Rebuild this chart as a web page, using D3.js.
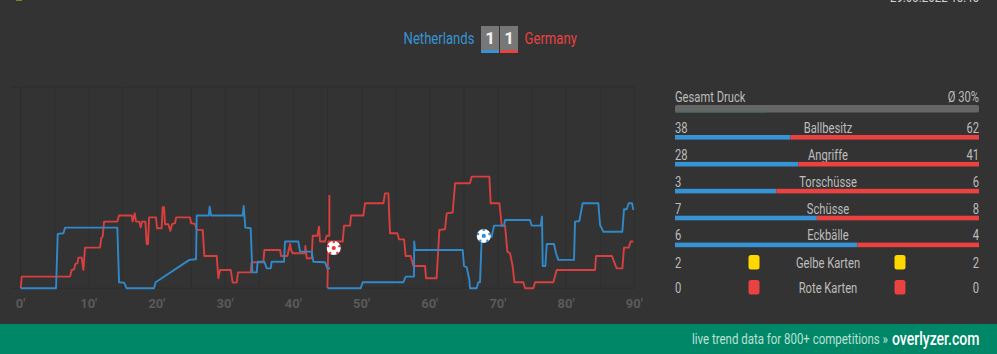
<!DOCTYPE html>
<html><head><meta charset="utf-8">
<script src="https://cdn.jsdelivr.net/npm/d3@7/dist/d3.min.js"></script>
<style>html,body{margin:0;padding:0;background:#333;overflow:hidden}svg{display:block}text{font-family:Roboto,sans-serif}</style>
</head><body><svg id="c" width="997" height="354"></svg>
<script>
const homeTeam="Netherlands", awayTeam="Germany", score=[1,1];
const tickMinutes=[0,10,20,30,40,50,60,70,80,90];
const gridMinutes=[0,5,10,15,20,25,30,35,40,45,50,55,60,65,70,75,80,85,90];

const blueH1Min=[0,5.18,5.43,6.26,6.5,14.17,14.42,15.15,15.54,19.55,19.79,24.73,25.71,25.81,27.57,27.71,27.91,32.55,32.7,32.94,33.72,33.97,34.6,34.75,35.73,36.07,36.66,36.8,38.61,38.76,40.71,40.96,42.67,42.91,44.62,44.97,45.36];
const blueH1Val=[0,0,27,27.3,30.1,30.1,3,2.8,0,0,3,14.1,14.4,36.1,36.1,40.5,36.1,36.1,40.9,30.1,29.8,7.9,7.9,13.2,13.2,9.9,9.9,13.2,13.2,23.2,23.2,18.2,18.2,13.2,12.9,9.9,9.9];
const blueH2Min=[45,49.85,50.15,56.11,56.45,57.67,57.7,57.82,64.81,65,65.4,65.79,65.88,66.86,67.1,67.35,67.59,69.06,69.4,70.87,71.02,74.68,74.93,76.25,76.44,76.54,76.93,77.13,78.2,78.49,78.84,81.13,81.28,81.91,82.4,84.7,84.95,85.43,88.22,88.46,88.86,89.15,89.64,89.83];
const blueH2Val=[0,0,3,3,5.8,5.8,23.2,19,19,11.1,10.4,4,0,0,3,3,24.8,25.6,31.1,31.1,33.9,33.9,31.1,31.1,35.6,11.1,11.1,22,22,17.4,14.1,14.1,33.1,33.4,42.2,42.2,31.4,28.1,28.1,39.2,39.2,42.2,42.2,38.9];
const redH1Min=[0,0.15,7.23,7.48,7.82,8.02,8.31,8.46,8.94,9.19,9.43,11.63,11.83,12.02,12.22,14.17,14.42,16.28,16.42,16.72,16.91,17.4,17.6,17.79,18.28,18.48,18.67,18.82,19.84,19.99,20.67,20.82,21.02,21.16,21.65,21.95,22.19,22.63,22.78,24.83,24.98,25.56,25.81,26.69,26.93,28.74,28.98,29.23,30.79,31.09,31.67,31.87,33.72,33.87,35.58,35.73,38.03,38.17,39.1,39.3,39.5,39.64,39.88,41.69,41.74,41.94,42.67,42.82,43.5,43.74,43.89,44.62,44.87,45.26,45.26];
const redH1Val=[0,5.8,5.8,9.1,9.4,12.1,12.4,15.2,15.2,9.1,20.2,20.2,25.1,25.6,33.1,33.1,36.1,36.1,33.1,37.2,33.1,33.1,30.3,33.1,33.1,22,22,35.2,35.2,29.8,29.8,40.2,40.2,31.8,31.8,28.5,31.8,32.3,35.2,35.2,32.3,32,29,29,16,16,5,9.1,9.1,2.8,2.8,7.9,7.9,12.9,12.9,19,19,16,16,19,22,19,17.4,17.4,21,14.9,14.9,26.1,26.1,30.6,23.2,23.2,26.1,26.1,46.3];
const redH2Min=[44.97,45.11,47.21,47.41,48.29,48.44,50.24,50.49,53.18,53.42,53.91,54.15,55.23,55.47,56.21,56.45,57.18,57.57,59.29,59.43,60.98,61.39,62.22,62.46,63.34,63.69,65.88,66.13,68.72,68.91,70.19,70.53,71.02,71.36,71.75,72.14,72.39,73.7,73.95,75.17,75.42,78.1,78.59,84.21,84.36,86.7,87,87.39,88.22,88.46,89.15,89.44,89.83];
const redH2Val=[0,23.2,23.2,31.1,31.1,36.1,36.1,42.2,42.2,47.1,47.1,27.3,27.3,24.3,24.3,16,16,11.1,11.1,5,5,29,29.3,37.2,37.6,52.1,52.1,55.4,55.4,42.2,42.2,31.1,31.1,18.2,17.4,10.9,3,3,0,0,3,3,9.1,9.1,16,16,13.2,9.9,9.9,20.2,20.2,23.2,23.2];

const goalMin=[45.9,67.9], goalVal=[20,26], goalTeam=["away","home"];

const statNames=["Ballbesitz","Angriffe","Torschüsse","Schüsse","Eckbälle"];
const statHome=[38,28,3,7,6], statAway=[62,41,6,8,4];
const cardNames=["Gelbe Karten","Rote Karten"], cardHome=[2,0], cardAway=[2,0];
const pressureAvg=30;

const BLUE="#3693d4", RED="#ea4141", LINE_BLUE="#3089c9", LINE_RED="#d93f3f", TXT="#bdbdbd";
const svg=d3.select("#c");
svg.append("rect").attr("width",997).attr("height",354).attr("fill","#333");

const cond=.8;
function T(x,y,s,o={}){
  return svg.append("text").attr("transform",`translate(${x},${y}) scale(${o.sx||cond},1)`)
    .attr("text-anchor",o.a||"start").attr("font-size",o.fs||14).attr("font-weight",o.w||400)
    .attr("fill",o.c||TXT).text(s);
}
// date line, clipped by the top edge as in the reference
T(979,1.5,"29.03.2022 18:45",{a:"end",fs:14,sx:.82,c:"#d0d0d0"});
svg.append("rect").attr("x",16).attr("y",0).attr("width",6).attr("height",1).attr("fill","#8a7a20");

// header
T(474.5,43.5,homeTeam,{a:"end",fs:16,sx:.82,c:BLUE});
T(524.5,43.5,awayTeam,{a:"start",fs:16,sx:.82,c:RED});
[481,500].forEach((x,i)=>{
  svg.append("rect").attr("x",x).attr("y",26).attr("width",18).attr("height",24).attr("fill","#777");
  svg.append("rect").attr("x",x).attr("y",50).attr("width",18).attr("height",3).attr("fill",i?RED:BLUE);
  T(x+9,44,score[i],{a:"middle",fs:17,w:700,c:"#f2f2f2",sx:1});
});

// chart
const x=d3.scaleLinear().domain([0,90]).range([20.7,634.5]);
const y=d3.scaleLinear().domain([0,100]).range([288.3,86.8]);
const g=svg.append("g");
g.selectAll("line.g").data(gridMinutes).join("line").attr("x1",d=>x(d)).attr("x2",d=>x(d))
  .attr("y1",y(100)).attr("y2",y(0)).attr("stroke",d=>d==0?"#2b2b2b":"#2f2f2f").attr("stroke-width",1);
[0,100].forEach(v=>g.append("line").attr("x1",x(0)-9).attr("x2",x(90)).attr("y1",y(v)).attr("y2",y(v)).attr("stroke","#2e2e2e"));
const axis=d3.axisBottom(x).tickValues(tickMinutes).tickFormat(d=>d+"'").tickSize(0);
const ax=svg.append("g").attr("transform","translate(-0.7,294)").call(axis);
ax.select(".domain").remove();
ax.selectAll("text").attr("font-size",13).attr("font-weight",700).attr("fill","#5a5a5a").attr("dy","0").attr("y",14).attr("style","font-family:Roboto,sans-serif");

const line=d3.line().x(d=>x(d[0])).y(d=>y(d[1]));
function draw(ms,vs,c){g.append("path").datum(d3.zip(ms,vs)).attr("d",line).attr("fill","none").attr("stroke",c).attr("stroke-width",1.9).attr("stroke-linejoin","round");}
draw(redH1Min,redH1Val,LINE_RED);
draw(redH2Min,redH2Val,LINE_RED);
draw(blueH1Min,blueH1Val,LINE_BLUE);
draw(blueH2Min,blueH2Val,LINE_BLUE);

// goal markers
const ballOffsets=d3.range(5).map(i=>i*72-90);
goalMin.forEach((m,i)=>{
  const c=goalTeam[i]=="home"?"#2f8fd8":"#e5353a";
  const b=g.append("g").attr("transform",`translate(${x(m)},${y(goalVal[i])})`);
  b.append("circle").attr("r",7).attr("fill","#fff");
  b.append("path").attr("d",d3.symbol(d3.symbolCircle,14)()).attr("fill",c);
  ballOffsets.forEach(a=>{
    const r=a*Math.PI/180;
    b.append("circle").attr("cx",6*Math.cos(r)).attr("cy",6*Math.sin(r)).attr("r",1.2).attr("fill",c);
  });
});

// stats panel
const L=675,R=979;
const w=d3.scaleLinear().domain([0,1]).range([0,R-L]);
T(L,101.7,"Gesamt Druck");
T(R,101.7,`Ø ${pressureAvg}%`,{a:"end"});
svg.append("rect").attr("x",L).attr("y",105).attr("width",R-L).attr("height",7.5).attr("rx",2).attr("fill","#666");
svg.append("rect").attr("x",L).attr("y",111.5).attr("width",w(pressureAvg/100)).attr("height",1).attr("fill","#3f6f5f");

const midX=(L+R)/2+1;
statNames.forEach((n,i)=>{
  const top=135+i*26.9, base=top-2.2;
  const sp=statHome[i]/(statHome[i]+statAway[i]);
  T(L,base,statHome[i]);
  T(R,base,statAway[i],{a:"end"});
  T(midX,base,n,{a:"middle"});
  svg.append("rect").attr("x",L).attr("y",top).attr("width",w(sp)).attr("height",4.6).attr("fill",BLUE);
  svg.append("rect").attr("x",L+w(sp)).attr("y",top).attr("width",w(1-sp)).attr("height",4.6).attr("fill",RED);
});
const cardCol=["#ffd800",RED];
cardNames.forEach((n,i)=>{
  const cy=262+i*25;
  T(L,cy+5.5,cardHome[i]);
  T(R,cy+5.5,cardAway[i],{a:"end"});
  T(midX,cy+5.5,n,{a:"middle"});
  [754,900].forEach(cx=>svg.append("rect").attr("x",cx-5.5).attr("y",cy-7).attr("width",11).attr("height",14.5).attr("rx",2.5).attr("fill",cardCol[i]));
});

// footer
svg.append("rect").attr("x",0).attr("y",324).attr("width",997).attr("height",30).attr("fill","#008767");
T(888,344,"live trend data for 800+ competitions »",{a:"end",fs:14,sx:.82,c:"#bfe0d6"});
T(979.5,345,"overlyzer.com",{a:"end",fs:18,sx:.78,c:"#fff",w:500});
</script></body></html>
